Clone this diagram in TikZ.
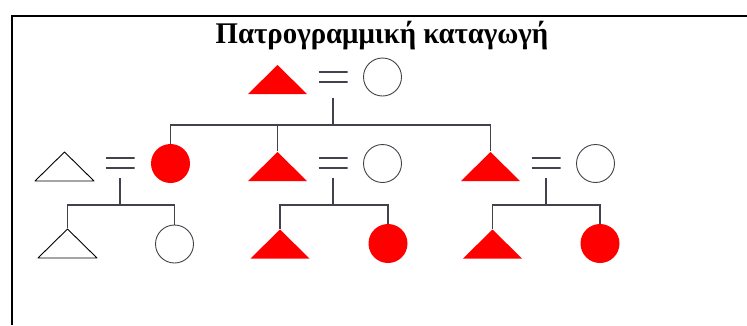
\documentclass[tikz,border=0pt]{standalone}
\usepackage{fontspec}
\setmainfont{Liberation Serif}
\definecolor{linecol}{HTML}{45414A}
\definecolor{pedred}{HTML}{FF0000}
\begin{document}
\begin{tikzpicture}[x=1pt,y=-1pt,
  lc/.style={draw=linecol, line width=1.5pt},
  tri/.style={minimum width=61pt, minimum height=31pt, inner sep=0pt, outer sep=0pt,
    path picture={\path[#1, line join=round]
      ([shift={(1pt,1pt)}]path picture bounding box.south west) --
      ([shift={(-1pt,1pt)}]path picture bounding box.south east) --
      ([yshift=-1pt]path picture bounding box.north) -- cycle;}},
  redtri/.style={tri={fill=pedred}},
  opentri/.style={tri={draw=black, line width=0.9pt}},
  redcirc/.style={circle, fill=pedred, minimum size=39pt, inner sep=0pt, outer sep=0pt},
  opencirc/.style={circle, draw=linecol, line width=0.9pt, minimum size=38pt, inner sep=0pt, outer sep=0pt},
  eqs/.style={minimum width=29pt, minimum height=12pt, inner sep=0pt, outer sep=0pt,
    path picture={\draw[linecol, line width=1.6pt]
      ([yshift=-1pt]path picture bounding box.north west) -- ([yshift=-1pt]path picture bounding box.north east)
      ([yshift=1pt]path picture bounding box.south west) -- ([yshift=1pt]path picture bounding box.south east);}},
  titlefont/.style={font=\fontsize{30}{34}\selectfont\bfseries}
]
\useasboundingbox (0,0) rectangle (747,325);
\fill[white] (0,0) rectangle (747,325);
% frame
\draw[line width=2pt, black] (747,16) -- (12,16) -- (12,325);
% title
\node[titlefont, anchor=base, inner sep=0pt] (title) at (382,43) {\scalebox{0.96}[1]{Πατρογραμμική καταγωγή}};
% generation 1
\node[redtri] (T0) at (277.5,79.5) {};
\node[eqs] (E0) at (333,77) {};
\node[opencirc] (C0) at (382.5,77) {};
% generation 2
\node[opentri] (A1) at (64.5,166.5) {};
\node[eqs] (E1) at (120,163) {};
\node[redcirc] (A2) at (170.5,163.5) {};
\node[redtri] (B1) at (277.5,166.5) {};
\node[eqs] (E2) at (333,163) {};
\node[opencirc] (B2) at (382.5,163.5) {};
\node[redtri] (C1) at (490.5,166.5) {};
\node[eqs] (E3) at (546,163) {};
\node[opencirc] (C2) at (595.5,163.5) {};
% generation 3
\node[opentri] (A3) at (67.5,243.5) {};
\node[opencirc] (A4) at (174.5,244) {};
\node[redtri] (B3) at (280,244) {};
\node[redcirc] (B4) at (388,243.5) {};
\node[redtri] (C3) at (492.5,244) {};
\node[redcirc] (C4) at (600,243.5) {};
% junctions
\coordinate (J0) at (333,125);
\coordinate (J1) at (120,205);
\coordinate (J2) at (333,205);
\coordinate (J3) at (546,205);
% connectors
\draw[lc, shorten <=15pt] (E0.south) -- (J0);
\draw[lc] (A2.north) |- (J0) -| (C1.north);
\draw[lc] (B1.north) -- (B1.north |- J0);
\draw[lc, shorten <=9pt] (E1.south) -- (J1);
\draw[lc] (A3.north) |- (J1) -| (A4.north);
\draw[lc, shorten <=9pt] (E2.south) -- (J2);
\draw[lc] (B3.north) |- (J2) -| (B4.north);
\draw[lc, shorten <=9pt] (E3.south) -- (J3);
\draw[lc] (C3.north) |- (J3) -| (C4.north);
\end{tikzpicture}
\end{document}
